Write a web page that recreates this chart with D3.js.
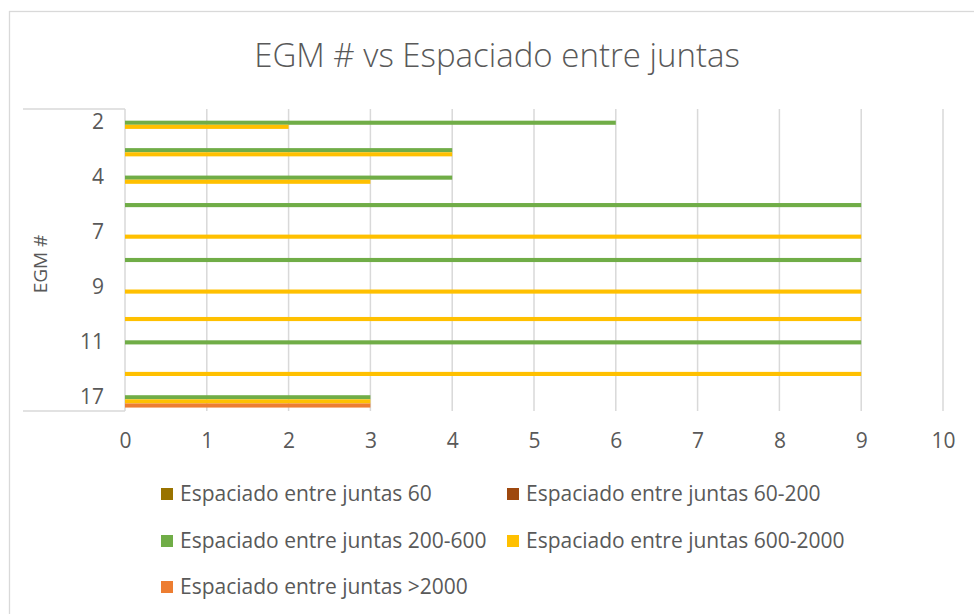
<!DOCTYPE html>
<html>
<head>
<meta charset="utf-8">
<script src="https://cdn.jsdelivr.net/npm/d3@7"></script>
<style>
  html, body { margin: 0; padding: 0; background: #fff; }
  svg { display: block; font-family: "Open Sans", "Liberation Sans", sans-serif; }
</style>
</head>
<body>
<svg id="chart" width="974" height="614"></svg>
<script>
// Categories (EGM #), top to bottom; only every other label is printed on the axis
const categories = ["2", "3", "4", "5", "7", "8", "9", "10", "11", "12", "17"];
const shownLabels = ["2", "4", "7", "9", "11", "17"];

const seriesNames = [
  "Espaciado entre juntas 60",
  "Espaciado entre juntas 60-200",
  "Espaciado entre juntas 200-600",
  "Espaciado entre juntas 600-2000",
  "Espaciado entre juntas >2000"
];
const seriesColors = ["#997300", "#9E480E", "#70AD47", "#FFC000", "#ED7D31"];

// Values per series, one per category
const s60       = [0, 0, 0, 0, 0, 0, 0, 0, 0, 0, 0];
const s60_200   = [0, 0, 0, 0, 0, 0, 0, 0, 0, 0, 0];
const s200_600  = [6, 4, 4, 9, 0, 9, 0, 0, 9, 0, 3];
const s600_2000 = [2, 4, 3, 0, 9, 0, 9, 9, 0, 9, 3];
const s2000     = [0, 0, 0, 0, 0, 0, 0, 0, 0, 0, 3];
const seriesValues = [s60, s60_200, s200_600, s600_2000, s2000];

const xTicks = [0, 1, 2, 3, 4, 5, 6, 7, 8, 9, 10];

const svg = d3.select("#chart");
const textColor = "#595959";
const gridColor = "#d9d9d9";

// Chart frame
svg.append("rect")
  .attr("x", 9.5).attr("y", 11.5)
  .attr("width", 974).attr("height", 614)
  .attr("fill", "none").attr("stroke", gridColor).attr("stroke-width", 1.3);

// Title
svg.append("text")
  .attr("x", 497).attr("y", 67)
  .attr("text-anchor", "middle")
  .attr("font-size", 33)
  .attr("font-weight", 300)
  .attr("fill", textColor)
  .text("EGM # vs Espaciado entre juntas");

const plot = { left: 125, right: 943, top: 109, bottom: 411 };

const x = d3.scaleLinear().domain([0, 10]).range([plot.left, plot.right]);
const y0 = d3.scaleBand().domain(categories)
  .range([plot.top, plot.bottom]).paddingInner(0.25).paddingOuter(0.125);
const y1 = d3.scaleBand().domain(d3.range(seriesNames.length))
  .range([0, y0.bandwidth()]);

// Vertical gridlines
svg.append("g").selectAll("line")
  .data(xTicks.filter(t => t > 0))
  .join("line")
  .attr("x1", d => x(d)).attr("x2", d => x(d))
  .attr("y1", plot.top).attr("y2", plot.bottom)
  .attr("stroke", gridColor).attr("stroke-width", 1.5);

// Category axis line and label box edges
svg.append("line")
  .attr("x1", plot.left).attr("x2", plot.left)
  .attr("y1", plot.top).attr("y2", plot.bottom)
  .attr("stroke", gridColor).attr("stroke-width", 1.5);
[plot.top, plot.bottom].forEach(yy => {
  svg.append("line")
    .attr("x1", 23).attr("x2", plot.left)
    .attr("y1", yy).attr("y2", yy)
    .attr("stroke", gridColor).attr("stroke-width", 1.3);
});

// Bars
const rows = svg.append("g").selectAll("g")
  .data(categories)
  .join("g")
  .attr("transform", d => `translate(0,${y0(d)})`);

rows.selectAll("rect")
  .data((c, ci) => seriesValues.map((vals, si) => ({ si, v: vals[ci] })).filter(d => d.v > 0))
  .join("rect")
  .attr("x", x(0))
  .attr("y", d => y1(d.si))
  .attr("width", d => x(d.v) - x(0))
  .attr("height", y1.bandwidth())
  .attr("fill", d => seriesColors[d.si]);

// Category labels
const yAxis = d3.axisLeft(y0)
  .tickValues(shownLabels)
  .tickSize(0)
  .tickPadding(21);
const gy = svg.append("g").attr("transform", `translate(${plot.left},0)`).call(yAxis);
gy.select(".domain").remove();
gy.selectAll("text").attr("font-size", 21).attr("fill", textColor)
  .attr("font-family", "Open Sans, sans-serif");

// Value axis labels
const xAxis = d3.axisBottom(x).tickValues(xTicks).tickSize(0).tickPadding(22)
  .tickFormat(d3.format("d"));
const gx = svg.append("g").attr("transform", `translate(0,${plot.bottom})`).call(xAxis);
gx.select(".domain").remove();
gx.selectAll("text").attr("font-size", 21).attr("fill", textColor)
  .attr("font-family", "Open Sans, sans-serif");

// Axis title
svg.append("text")
  .attr("transform", "translate(47,264) rotate(-90)")
  .attr("text-anchor", "middle")
  .attr("font-size", 19)
  .attr("fill", textColor)
  .text("EGM #");

// Legend
const legendPos = [[161, 494], [507, 494], [161, 541], [507, 541], [161, 587]];
const legend = svg.append("g").selectAll("g")
  .data(seriesNames)
  .join("g")
  .attr("transform", (d, i) => `translate(${legendPos[i][0]},${legendPos[i][1]})`);
legend.append("rect")
  .attr("x", 0).attr("y", -6).attr("width", 12).attr("height", 12)
  .attr("fill", (d, i) => seriesColors[i]);
legend.append("text")
  .attr("x", 19).attr("y", 0).attr("dy", "0.35em")
  .attr("font-size", 21)
  .attr("fill", textColor)
  .text(d => d);
</script>
</body>
</html>
